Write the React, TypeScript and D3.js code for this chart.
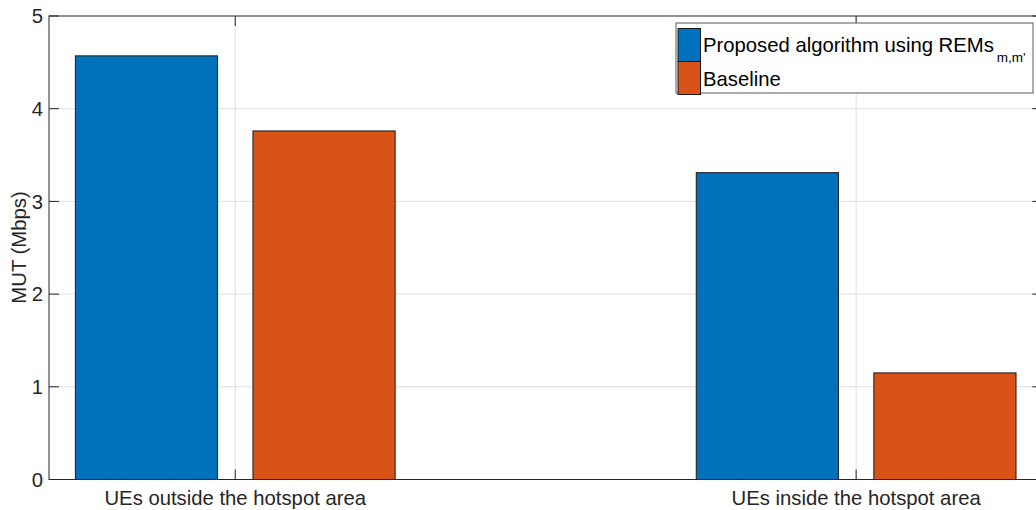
import React from "react";
import * as d3 from "d3";

const categories = ["UEs outside the hotspot area", "UEs inside the hotspot area"];
const seriesNames = ["Proposed algorithm using REMs", "Baseline"];
const proposed = [4.57, 3.31];
const baseline = [3.76, 1.15];
const yTicks = [0, 1, 2, 3, 4, 5];
const colors = ["#0072BD", "#D95319"];

const W = 1036;
const H = 510;
const M = { left: 49, top: 16, right: 1042.4, bottom: 479.5 };

export default function App() {
  const x = d3.scaleLinear().domain([0.7, 2.3]).range([M.left, M.right]);
  const y = d3.scaleLinear().domain([0, 5]).range([M.bottom, M.top]);
  const series = [proposed, baseline];
  const offset = 0.143;
  const bw = 0.229;
  const axisColor = "#262626";
  const font = "Liberation Sans, Arial, sans-serif";
  const tickLen = 10;
  const fs = 20.3;

  return (
    <svg width={W} height={H} style={{ position: "absolute", left: 0, top: 0, background: "#fff" }} fontFamily={font}>
      <rect x={0} y={0} width={W} height={H} fill="#fff" />
      {/* grid */}
      {yTicks.slice(1, -1).map((t) => (
        <line key={"gy" + t} x1={M.left} x2={M.right} y1={y(t)} y2={y(t)} stroke="#dfdfdf" strokeWidth={1} />
      ))}
      {categories.map((c, i) => (
        <line key={"gx" + i} x1={x(i + 1)} x2={x(i + 1)} y1={M.top} y2={M.bottom} stroke="#dfdfdf" strokeWidth={1} />
      ))}
      {/* bars */}
      {series.map((s, si) =>
        s.map((v, ci) => {
          const cx = ci + 1 + (si === 0 ? -offset : offset);
          const x0 = x(cx - bw / 2);
          const x1 = x(cx + bw / 2);
          return (
            <rect
              key={`b${si}-${ci}`}
              x={x0}
              y={y(v)}
              width={x1 - x0}
              height={y(0) - y(v)}
              fill={colors[si]}
              stroke="#1a1a1a"
              strokeWidth={1}
            />
          );
        })
      )}
      {/* axes box */}
      <rect x={M.left} y={M.top} width={M.right - M.left} height={M.bottom - M.top} fill="none" stroke={axisColor} strokeWidth={1} />
      {/* y ticks */}
      {yTicks.map((t) => (
        <g key={"yt" + t}>
          <line x1={M.left} x2={M.left + tickLen} y1={y(t)} y2={y(t)} stroke={axisColor} />
          <line x1={M.right} x2={M.right - tickLen} y1={y(t)} y2={y(t)} stroke={axisColor} />
          <text x={M.left - 6} y={y(t)} dy="0.35em" textAnchor="end" fontSize={fs} fill={axisColor}>
            {t}
          </text>
        </g>
      ))}
      {/* x ticks */}
      {categories.map((c, i) => (
        <g key={"xt" + i}>
          <line x1={x(i + 1)} x2={x(i + 1)} y1={M.bottom} y2={M.bottom - tickLen} stroke={axisColor} />
          <line x1={x(i + 1)} x2={x(i + 1)} y1={M.top} y2={M.top + tickLen} stroke={axisColor} />
          <text x={x(i + 1)} y={M.bottom + 25} textAnchor="middle" fontSize={fs} fill={axisColor}>
            {c}
          </text>
        </g>
      ))}
      {/* y label */}
      <text
        transform={`translate(26,247.5) rotate(-90)`}
        textAnchor="middle"
        fontSize={fs}
        fill={axisColor}
      >
        MUT (Mbps)
      </text>
      {/* legend */}
      <g>
        <rect x={676} y={23} width={357} height={70} fill="#fff" stroke="#5a5a5a" strokeWidth={1} />
        <rect x={678} y={28.5} width={22.5} height={33} fill={colors[0]} stroke="#1a1a1a" />
        <rect x={678} y={61.5} width={22.5} height={33} fill={colors[1]} stroke="#1a1a1a" />
        <text x={703} y={52} fontSize={fs} fill="#000">
          {seriesNames[0]}
          <tspan fontSize={13.5} dx={3} dy={10}>m,m'</tspan>
        </text>
        <text x={703} y={86} fontSize={fs} fill="#000">
          {seriesNames[1]}
        </text>
      </g>
    </svg>
  );
}
